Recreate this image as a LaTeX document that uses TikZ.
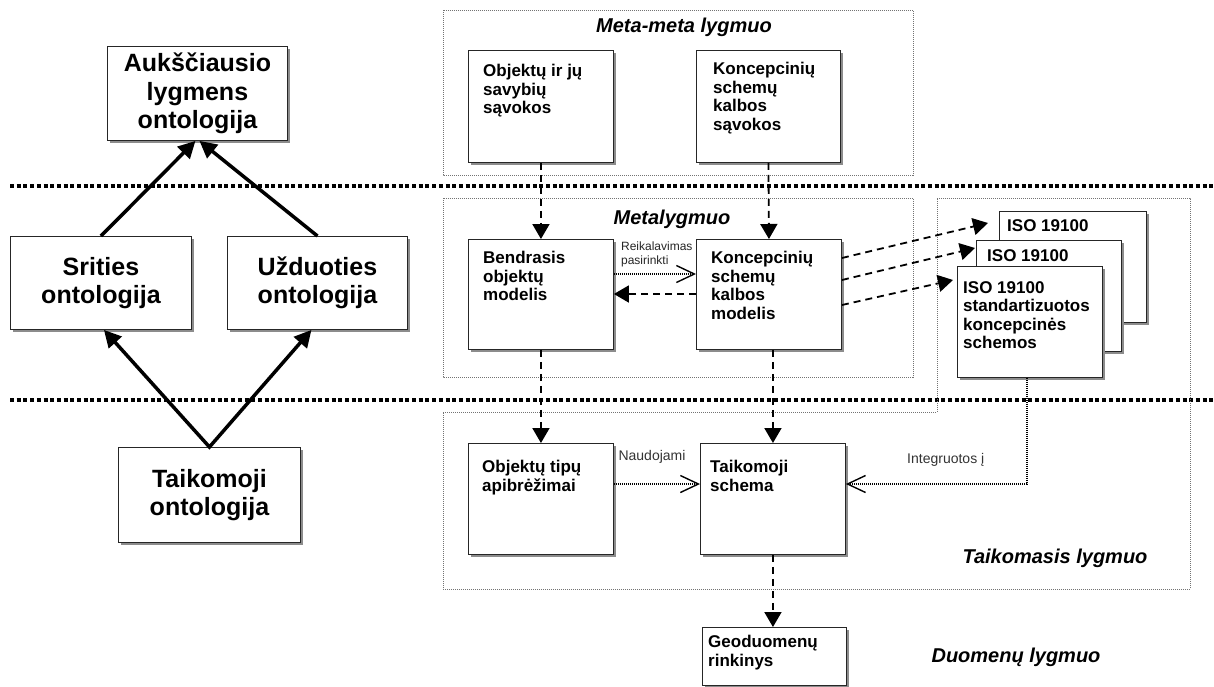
\documentclass[tikz,border=0pt]{standalone}
\usepackage{fontspec}
\setmainfont{Liberation Sans}
\usetikzlibrary{arrows.meta,calc,shadows}

\tikzset{
  sheetbox/.style={draw=black!85, line width=0.9pt, fill=white, inner sep=0pt,
    anchor=north west,
    general shadow={fill=black!45, shadow xshift=3pt, shadow yshift=-3pt}},
  bigtext/.style={font=\fontsize{25}{28.5}\selectfont\bfseries, align=center},
  boxtext/.style={font=\fontsize{17}{18.6}\selectfont\bfseries, align=left,
    anchor=north west, inner sep=0pt},
  leveltitle/.style={font=\fontsize{20}{24}\selectfont\bfseries\itshape, inner sep=0pt},
  smalllabel/.style={font=\fontsize{14}{16}\selectfont, text=black!80, inner sep=0pt},
  tinylabel/.style={font=\fontsize{12}{14}\selectfont, text=black!85, align=left,
    inner sep=0pt, anchor=north west},
  region/.style={draw=black!55, line width=0.9pt, dash pattern=on 1pt off 1pt},
  levelline/.style={line width=3.3pt, dash pattern=on 4pt off 2.7pt},
  ontoarrow/.style={line width=3.5pt, -{Triangle[length=17pt,width=17pt]}},
  flowarrow/.style={line width=1.8pt, dash pattern=on 7pt off 5pt,
    -{Triangle[length=15pt,width=17pt]}},
  userel/.style={line width=1.1pt, dash pattern=on 1pt off 1pt,
    -{Straight Barb[length=18pt,width=17pt,line width=1.4pt]}},
}

\begin{document}
\begin{tikzpicture}[x=1pt,y=-1pt]
\fill[white] (0,0) rectangle (1214,686);
\useasboundingbox (0,0) rectangle (1214,686);

% level separators
\draw[levelline] (10,186) -- (1214,186);
\draw[levelline] (10,400) -- (1214,400);

% level regions
\draw[region] (443,10) rectangle (913,175);
\draw[region] (443,198) rectangle (913,377);
\draw[region] (443,412) -- (937,412) -- (937,198) -- (1190,198) -- (1190,589) -- (443,589) -- cycle;

% ontology hierarchy
\node[sheetbox, bigtext, minimum width=180pt, minimum height=94pt] (top) at (107,46) {Aukščiausio\\lygmens\\ontologija};
\node[sheetbox, bigtext, minimum width=181pt, minimum height=93pt] (sr) at (10,236) {Srities\\ontologija};
\node[sheetbox, bigtext, minimum width=180pt, minimum height=93pt] (ud) at (227,236) {Užduoties\\ontologija};
\node[sheetbox, bigtext, minimum width=182pt, minimum height=95pt] (tao) at (118,447) {Taikomoji\\ontologija};

\draw[ontoarrow] (sr.north) -- ($(top.south)+(-2,0)$);
\draw[ontoarrow] (ud.north) -- ($(top.south)+(2,0)$);
\draw[line width=3.5pt, {Triangle[length=17pt,width=17pt]}-{Triangle[length=17pt,width=17pt]}]
  ($(sr.south)+(3,0)$) -- (tao.north) -- ($(ud.south)+(-6,0)$);

% meta-meta level
\node[sheetbox, minimum width=145pt, minimum height=112pt] (mmobj) at (468,50) {};
\node[sheetbox, minimum width=144pt, minimum height=112pt] (mmcon) at (696,50) {};
\node[boxtext] (tmmobj) at ($(mmobj.north west)+(15,14)$) {Objektų ir jų\\savybių\\sąvokos};
\node[boxtext] (tmmcon) at ($(mmcon.north west)+(17,12)$) {Koncepcinių\\schemų\\kalbos\\sąvokos};

% meta level
\node[sheetbox, minimum width=145pt, minimum height=110pt] (bend) at (468,239) {};
\node[sheetbox, minimum width=145pt, minimum height=110pt] (kmod) at (696,239) {};
\node[boxtext] (tbend) at ($(bend.north west)+(15,12)$) {Bendrasis\\objektų\\modelis};
\node[boxtext] (tkmod) at ($(kmod.north west)+(15,12)$) {Koncepcinių\\schemų\\kalbos\\modelis};

% ISO 19100 schema stack
\node[sheetbox, minimum width=147pt, minimum height=111pt] (iso3) at (999,211) {};
\node[boxtext] (tiso3) at ($(iso3.north west)+(8,8)$) {ISO 19100};
\node[sheetbox, minimum width=145pt, minimum height=111pt] (iso2) at (976,240) {};
\node[boxtext] (tiso2) at ($(iso2.north west)+(11,9)$) {ISO 19100};
\node[sheetbox, minimum width=145pt, minimum height=111pt] (iso1) at (957,266) {};
\node[boxtext] (tiso1) at ($(iso1.north west)+(6,15)$) {ISO 19100\\standartizuotos\\koncepcinės\\schemos};

% application level
\node[sheetbox, minimum width=145pt, minimum height=111pt] (otd) at (468,443) {};
\node[sheetbox, minimum width=145pt, minimum height=111pt] (taik) at (700,443) {};
\node[boxtext] (totd) at ($(otd.north west)+(14,17)$) {Objektų tipų\\apibrėžimai};
\node[boxtext] (ttaik) at ($(taik.north west)+(10,17)$) {Taikomoji\\schema};

% data level
\node[sheetbox, minimum width=144pt, minimum height=58pt] (geo) at (702,627) {};
\node[boxtext] (tgeo) at ($(geo.north west)+(6,8)$) {Geoduomenų\\rinkinys};

% level titles
\node[leveltitle] (tmm) at (684,27) {Meta-meta lygmuo};
\node[leveltitle] (tml) at (672,219) {Metalygmuo};
\node[leveltitle] (tap) at (1055,558) {Taikomasis lygmuo};
\node[leveltitle] (tdl) at (1016,657) {Duomenų lygmuo};

% connectors between levels
\draw[flowarrow] (mmobj.south) -- (bend.north);
\draw[flowarrow] (mmcon.south) -- (kmod.north);
\draw[flowarrow] (bend.south) -- (otd.north);
\draw[flowarrow] (taik.north |- kmod.south) -- (taik.north);
\draw[flowarrow] (taik.south) -- (taik.south |- geo.north);

% relations within the meta level
\draw[userel] ($(bend.north east)+(0,35)$) -- ($(kmod.north west)+(0,35)$);
\draw[flowarrow] ($(kmod.north west)+(0,55)$) -- ($(bend.north east)+(0,55)$);
\node[tinylabel] (lreq) at ($(bend.north east)+(7,3)$) {Reikalavimas\\pasirinkti};

\draw[flowarrow] ($(kmod.north east)+(0,19)$) -- ($(iso3.north west)+(-11,12)$);
\draw[flowarrow] ($(kmod.north east)+(0,41)$) -- ($(iso2.north west)+(-1,8)$);
\draw[flowarrow] ($(kmod.north east)+(0,66)$) -- ($(iso1.north west)+(-4,14)$);

% relations within the application level
\draw[userel] ($(otd.north east)+(0,41)$) -- ($(taik.north west)+(0,41)$);
\node[smalllabel] (lnau) at (652,457) {Naudojami};
\draw[userel] ($(iso1.south)+(-3,0)$) |- ($(taik.north east)+(0,41)$);
\node[smalllabel, anchor=west] (lint) at (907,460) {Integruotos į};
\end{tikzpicture}
\end{document}
